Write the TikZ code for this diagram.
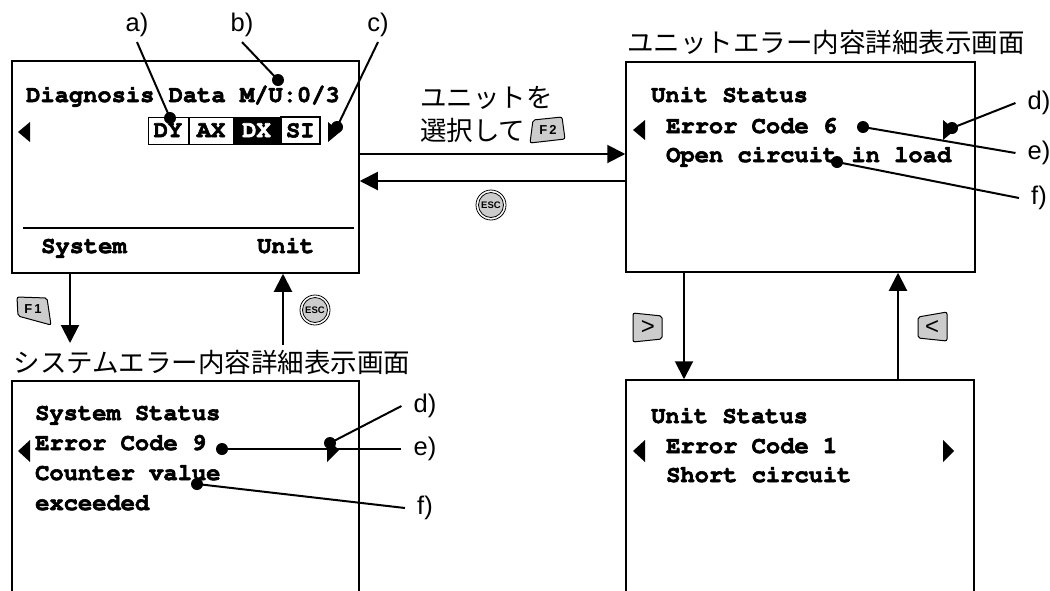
\documentclass[tikz,border=0pt]{standalone}
\usepackage[T1]{fontenc}
\usepackage{fontspec}
\setmainfont{Liberation Sans}
\newfontfamily\jpfont{Noto Sans CJK JP}
\newcommand\lcdfont{\fontencoding{T1}\fontfamily{pcr}\fontseries{b}\fontshape{n}\fontsize{23.75}{28}\selectfont}
\newcommand\heavyon{\special{pdf:literal direct 0.6 w 2 Tr}}
\newcommand\heavyoff{\special{pdf:literal direct 0 Tr}}
\usetikzlibrary{arrows.meta}
\begin{document}
\begin{tikzpicture}[x=1pt,y=-1pt,
  screen/.style={draw,line width=1.5pt,inner sep=0pt},
  lcdtext/.style={anchor=base west,inner sep=0pt,font=\lcdfont,
    execute at begin node=\heavyon,execute at end node=\heavyoff},
  cell/.style={draw,line width=1pt,inner sep=0pt,minimum height=27,font=\lcdfont,
    execute at begin node=\heavyon,execute at end node=\heavyoff},
  arr/.style={line width=2pt,-{Triangle[length=18pt,width=18pt]}},
  lead/.style={line width=2pt},
  tag/.style={inner xsep=12pt,inner ysep=5pt,font=\fontsize{25.5}{26}\selectfont},
  jptext/.style={inner sep=0pt,font=\jpfont\fontsize{26.5}{30}\selectfont},
  key/.style={draw,line width=1pt,fill=black!20,rounded corners=2pt},
  keytext/.style={inner sep=0pt,font=\bfseries\fontsize{13}{13}\selectfont},
  escbtn/.style={inner sep=0pt,font=\bfseries\fontsize{9.5}{9.5}\selectfont}]
\clip (0,0) rectangle (1050,590);
\fill[white] (0,0) rectangle (1050,590);

% screens
\node[screen,minimum width=347,minimum height=212] (diag) at (185.5,167) {};
\node[screen,minimum width=349,minimum height=210] (unitA) at (800.5,167) {};
\node[screen,minimum width=347,minimum height=240] (sysst) at (185.5,501) {};
\node[screen,minimum width=348,minimum height=240] (unitB) at (800,500) {};

% diagnosis data screen
\node[lcdtext] (hdr) at (26,102) {Diagnosis Data M/U:0/3};
\draw[line width=1.5pt] (23,228) -- (354,228);
\node[lcdtext] (fsys) at (41,253) {System};
\node[lcdtext] (funit) at (257,253) {Unit};
\node[cell,minimum width=40] (dy) at (168,130.5) {DY};
\node[cell,minimum width=44,anchor=west] (ax) at (dy.east) {AX};
\node[cell,minimum width=45,anchor=west,fill=black,text=white] (dx) at (ax.east) {DX};
\node[cell,minimum width=39,anchor=west,line width=2.5pt] (si) at (dx.east) {SI};
\fill (18,132) -- (30,122) -- (30,142) -- cycle;
\fill (340,132) -- (328,122) -- (328,142) -- cycle;

% unit screens
\node[lcdtext] (ust1) at (651,102) {Unit Status};
\node[lcdtext] (uec1) at (666,133) {Error Code 6};
\node[lcdtext] (umsg1) at (666,162) {Open circuit in load};
\fill (633,130) -- (645,120) -- (645,140) -- cycle;
\fill (955,130) -- (943,120) -- (943,140) -- cycle;
\node[lcdtext] (ust2) at (651,423) {Unit Status};
\node[lcdtext] (uec2) at (666,453) {Error Code 1};
\node[lcdtext] (umsg2) at (666,482) {Short circuit};
\fill (633,451) -- (645,440) -- (645,462) -- cycle;
\fill (954,451) -- (943,440) -- (943,462) -- cycle;

% system screen
\node[lcdtext] (sst) at (35,420) {System Status};
\node[lcdtext] (sec) at (35,450) {Error Code 9};
\node[lcdtext] (smsg1) at (35,480) {Counter value};
\node[lcdtext] (smsg2) at (35,510) {exceeded};
\fill (18,451) -- (30,440) -- (30,462) -- cycle;
\fill (339,450) -- (327,438) -- (327,462) -- cycle;

% titles
\node[jptext] (tunit) at (826,42) {ユニットエラー内容詳細表示画面};
\node[jptext] (tsys) at (212,362) {システムエラー内容詳細表示画面};
\node[jptext,anchor=west] (sel1) at (420,98) {ユニットを};
\node[jptext,anchor=west] (sel2) at (420,130) {選択して};

% transitions
\draw[arr] ([yshift=13pt]diag.east) -- ([yshift=13pt]unitA.west);
\draw[arr] ([yshift=-14pt]unitA.west) -- ([yshift=-14pt]diag.east);
\coordinate (f1tip) at (70,343);
\draw[arr] (f1tip |- diag.south) -- (f1tip);
\coordinate (escfoot) at (283,345);
\draw[arr] (escfoot) -- (escfoot |- diag.south);
\draw[arr] (684,0 |- unitA.south) -- (684,0 |- unitB.north);
\draw[arr] (898,0 |- unitB.north) -- (898,0 |- unitA.south);

% keys
\filldraw[key] (533,120) -- (562,117) -- (565,139) -- (530,143) -- cycle;
\node[keytext] (f2) at (548,130) {F\,2};
\filldraw[key] (17,297) -- (47,298) -- (51,325) -- (18,316) -- cycle;
\node[keytext] (f1) at (33,309) {F\,1};
\filldraw[key] (633,313) -- (662,316) -- (662,339) -- (633,342) -- cycle;
\node[inner sep=0pt,font=\fontsize{24}{24}\selectfont] (kright) at (648,327) {>};
\filldraw[key] (918,317) -- (947,312) -- (947,341) -- (918,338) -- cycle;
\node[inner sep=0pt,font=\fontsize{24}{24}\selectfont] (kleft) at (932,327) {<};
\filldraw[fill=black!20,line width=0.8pt] (491,205) circle[radius=12.5pt];
\draw[line width=0.8pt] (491,205) circle[radius=15pt];
\node[escbtn] (esc2) at (491,205) {ESC};
\filldraw[fill=black!20,line width=0.8pt] (315,310) circle[radius=12.5pt];
\draw[line width=0.8pt] (315,310) circle[radius=15pt];
\node[escbtn] (esc1) at (315,310) {ESC};

% callouts
\node[tag] (ta) at (137,25) {a)};
\node[tag] (tb) at (242,25) {b)};
\node[tag] (tc) at (378,25) {c)};
\coordinate (pa) at (170,118);
\coordinate (pb) at (278,80);
\coordinate (pc) at (337,127);
\draw[lead] (ta.south) -- (pa);
\draw[lead] (tb.south) -- (pb);
\draw[lead] (tc.south) -- (pc);
\node[tag] (td1) at (1039,103) {d)};
\node[tag] (te1) at (1039,153) {e)};
\node[tag] (tf1) at (1039,198) {f)};
\coordinate (pd1) at (952,128);
\coordinate (pe1) at (863,127);
\coordinate (pf1) at (837,162);
\draw[lead] (td1.west) -- (pd1);
\draw[lead] (pe1) -- (te1.west);
\draw[lead] (pf1) -- (tf1.west);
\node[tag] (td2) at (425,406) {d)};
\node[tag] (te2) at (425,449) {e)};
\node[tag] (tf2) at (425,508) {f)};
\coordinate (pd2) at (330,443);
\coordinate (pe2) at (222,449);
\coordinate (pf2) at (197,484);
\draw[lead] (td2.west) -- (pd2);
\draw[lead] (pe2) -- (te2.west);
\draw[lead] (pf2) -- (tf2.west);
\foreach \p in {pa,pb,pc,pd1,pe1,pf1,pd2,pe2,pf2}
  \fill (\p) circle[radius=6pt];
\end{tikzpicture}
\end{document}
